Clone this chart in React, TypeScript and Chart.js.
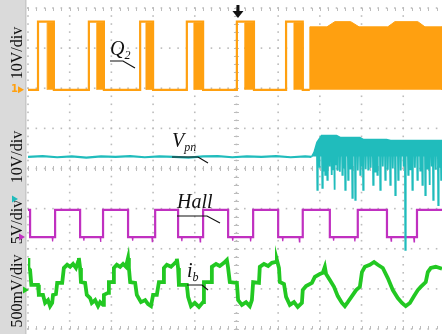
import React, { useEffect, useRef } from "react";
import { Chart, registerables } from "chart.js";

Chart.register(...registerables);

// Time axis in screen divisions (visible part 0 .. 9.93 of the 10-div screen)
// Amplitude axis in screen divisions (0 = bottom edge, 8 = top edge)
const T_MAX = 9.93;
const Y_DIVS = 8;

const channelScaleLabels = ["10V/div", "10V/div", "5V/div", "500mV/div"];

// ---- CH1: Q2 gate signal ----
const q2Low = 5.96;
const q2High = 7.66;
const q2ChopHigh = 7.63;
const q2Rise = [0.24, 1.46, 2.69, 3.81, 5.01, 6.19];
const q2ChopStart = [0.46, 1.65, 2.83, 3.98, 5.2, 6.38];
const q2Fall = [0.62, 1.82, 3.0, 4.2, 5.42, 6.59];
const q2DenseT = [6.76, 7.17, 7.36, 7.74, 7.94, 8.63, 8.8, 9.35, 9.52, 9.93];
const q2DenseTop = [7.53, 7.53, 7.66, 7.66, 7.53, 7.53, 7.66, 7.66, 7.53, 7.53];

// ---- CH2: Vpn ----
const vpnFlatT = [0.0, 0.35, 0.7, 1.05, 1.4, 1.75, 2.1, 2.45, 2.8, 3.15, 3.5, 3.85, 4.2, 4.55, 4.9, 5.25, 5.6, 5.95, 6.3, 6.65, 6.8];
const vpnFlatV = [4.29, 4.31, 4.28, 4.3, 4.27, 4.3, 4.29, 4.31, 4.28, 4.3, 4.29, 4.27, 4.3, 4.31, 4.28, 4.3, 4.29, 4.31, 4.28, 4.3, 4.29];
const vpnTopT = [6.8, 6.86, 6.93, 7.04, 7.4, 7.5, 7.96, 8.05, 8.6, 8.7, 9.93];
const vpnTopV = [4.29, 4.4, 4.65, 4.82, 4.82, 4.77, 4.77, 4.72, 4.72, 4.7, 4.7];
const vpnBandLow = 4.3;
const vpnSpikeTop = 4.6;
const vpnSpikeT = [6.93, 6.98, 7.05, 7.09, 7.12, 7.17, 7.22, 7.27, 7.31, 7.34, 7.37, 7.41, 7.47, 7.53, 7.57, 7.6, 7.67, 7.72, 7.77, 7.84, 7.9, 7.96, 8.0, 8.03, 8.09, 8.15, 8.21, 8.27, 8.32, 8.37, 8.44, 8.5, 8.56, 8.62, 8.68, 8.74, 8.8, 8.87, 8.93, 9.0, 9.04, 9.11, 9.16, 9.21, 9.27, 9.33, 9.4, 9.45, 9.52, 9.57, 9.62, 9.67, 9.71, 9.77, 9.83, 9.87, 9.9];
const vpnSpikeLow = [3.47, 4.02, 3.52, 3.95, 3.84, 3.72, 4.05, 3.84, 3.98, 3.47, 4.08, 3.97, 3.92, 3.84, 4.02, 3.47, 3.72, 4.0, 3.27, 3.22, 3.95, 3.84, 4.05, 3.47, 3.98, 3.97, 4.02, 3.59, 3.92, 3.84, 3.47, 4.05, 3.72, 3.97, 3.59, 4.0, 3.34, 3.72, 3.95, 4.05, 1.97, 3.84, 3.98, 3.47, 4.02, 3.72, 3.95, 3.59, 3.34, 4.0, 3.59, 4.05, 3.22, 3.97, 3.09, 4.02, 3.72];

// ---- CH3: Hall ----
const hallHigh = 2.97;
const hallLow = 2.29;
const hallEdges = [0.05, 0.65, 1.25, 1.8, 2.4, 3.05, 3.6, 4.2, 4.8, 5.4, 6.0, 6.59, 7.24, 7.91, 8.61, 9.33];
const hallGlitchT = [0.58, 1.33, 1.73, 2.5, 2.97, 3.68, 4.12, 4.9, 5.33, 6.1, 6.5, 7.32, 7.83, 8.7, 9.25];
const hallGlitchV = [2.18, 2.2, 2.17, 2.2, 2.18, 2.19, 2.17, 2.2, 2.18, 2.19, 2.17, 2.2, 2.18, 2.19, 2.17];

// ---- CH4: i_b ----
const ibT = [0.0, 0.01, 0.05, 0.08, 0.24, 0.26, 0.36, 0.41, 0.48, 0.53, 0.58, 0.6, 0.67, 0.7, 0.82, 0.86, 0.94, 1.01, 1.08, 1.15, 1.2, 1.22, 1.25, 1.27, 1.37, 1.41, 1.49, 1.53, 1.61, 1.68, 1.73, 1.8, 1.82, 1.92, 1.94, 2.04, 2.06, 2.13, 2.21, 2.28, 2.35, 2.4, 2.42, 2.45, 2.57, 2.61, 2.71, 2.81, 2.88, 2.95, 3.0, 3.09, 3.14, 3.24, 3.26, 3.33, 3.43, 3.5, 3.55, 3.57, 3.6, 3.62, 3.81, 3.84, 3.91, 4.0, 4.1, 4.2, 4.22, 4.39, 4.41, 4.51, 4.6, 4.7, 4.77, 4.8, 4.84, 5.01, 5.04, 5.13, 5.23, 5.32, 5.37, 5.4, 5.54, 5.56, 5.66, 5.76, 5.85, 5.95, 5.97, 6.02, 6.04, 6.14, 6.19, 6.28, 6.38, 6.47, 6.57, 6.59, 6.67, 6.81, 6.88, 7.0, 7.07, 7.12, 7.15, 7.24, 7.34, 7.43, 7.53, 7.6, 7.67, 7.77, 7.87, 7.96, 8.01, 8.08, 8.2, 8.3, 8.39, 8.51, 8.63, 8.75, 8.87, 8.97, 9.06, 9.16, 9.26, 9.35, 9.42, 9.54, 9.59, 9.66, 9.78, 9.93];
const ibV = [1.77, 1.52, 1.47, 1.1, 1.1, 0.85, 0.85, 0.65, 0.72, 0.57, 0.65, 0.85, 0.87, 1.15, 1.15, 1.52, 1.6, 1.55, 1.62, 1.52, 1.67, 1.77, 1.52, 1.17, 1.15, 0.85, 0.77, 0.65, 0.72, 0.57, 0.67, 0.6, 0.85, 0.9, 1.17, 1.17, 1.52, 1.6, 1.55, 1.62, 1.55, 1.77, 1.52, 1.17, 1.15, 0.85, 0.67, 0.72, 0.62, 0.57, 0.85, 0.85, 1.17, 1.17, 1.52, 1.6, 1.55, 1.62, 1.67, 1.75, 1.52, 1.1, 1.1, 0.8, 0.57, 0.65, 0.55, 0.67, 1.17, 1.17, 1.55, 1.62, 1.57, 1.65, 1.72, 1.52, 1.17, 1.15, 0.72, 0.6, 0.67, 0.57, 0.72, 1.17, 1.15, 1.55, 1.62, 1.57, 1.65, 1.67, 1.72, 1.52, 1.17, 1.12, 0.8, 0.6, 0.67, 0.55, 0.65, 0.97, 1.07, 1.15, 1.3, 1.37, 1.4, 1.55, 1.37, 1.22, 1.05, 0.82, 0.65, 0.57, 0.67, 0.82, 0.97, 1.05, 1.42, 1.55, 1.6, 1.67, 1.6, 1.52, 1.27, 0.97, 0.77, 0.65, 0.57, 0.65, 0.82, 0.97, 1.05, 1.17, 1.42, 1.52, 1.55, 1.5];

const ORANGE = "#ffa010";
const CYAN = "#20bcbc";
const MAGENTA = "#c030c0";
const GREEN = "#22c822";

type P = { x: number; y: number | null };

function q2OutlinePoints(): P[] {
  const pts: P[] = [{ x: 0, y: q2Low }];
  q2Rise.forEach((r, i) => {
    pts.push({ x: r, y: q2Low }, { x: r, y: q2High }, { x: q2Fall[i], y: q2High }, { x: q2Fall[i], y: q2Low });
  });
  pts.push({ x: q2DenseT[0], y: q2Low });
  return pts;
}

function q2ChopPoints(): P[] {
  const pts: P[] = [];
  q2ChopStart.forEach((s, i) => {
    const e = q2Fall[i];
    pts.push({ x: s, y: q2Low }, { x: s, y: q2ChopHigh }, { x: e, y: q2ChopHigh }, { x: e, y: q2Low }, { x: e, y: null });
  });
  pts.push({ x: q2DenseT[0], y: q2Low });
  q2DenseT.forEach((t, i) => pts.push({ x: t, y: q2DenseTop[i] }));
  pts.push({ x: T_MAX, y: q2Low });
  return pts;
}

function seriesPoints(ts: number[], vs: number[]): P[] {
  return ts.map((t, i) => ({ x: t, y: vs[i] }));
}

function spikePoints(ts: number[], lows: number[], base: number, w = 0.008): P[] {
  const pts: P[] = [];
  ts.forEach((t, i) => {
    pts.push({ x: t, y: base }, { x: t + w / 2, y: lows[i] }, { x: t + w, y: base }, { x: t + w, y: null });
  });
  return pts;
}

function hallPoints(): P[] {
  let level = hallHigh;
  const pts: P[] = [{ x: 0, y: level }];
  hallEdges.forEach((e) => {
    const next = level === hallHigh ? hallLow : hallHigh;
    pts.push({ x: e, y: level }, { x: e, y: next });
    level = next;
  });
  pts.push({ x: T_MAX, y: level });
  return pts;
}

const SERIF = '"Liberation Serif", "Times New Roman", "DejaVu Serif", serif';

const scopePlugin = {
  id: "scopeScreen",
  beforeDraw(chart: any) {
    const { ctx, chartArea: a, scales, width, height } = chart;
    const xs = scales.x;
    const ys = scales.y;
    ctx.save();
    ctx.fillStyle = "#ffffff";
    ctx.fillRect(0, 0, width, height);
    ctx.fillStyle = "#dadada";
    ctx.fillRect(0, 0, a.left - 3, height);
    ctx.fillStyle = "#c8c8c8";
    ctx.fillRect(a.left - 3, 0, 1.5, height);

    ctx.fillStyle = "#bcbcbc";
    const dot = (x: number, y: number) => ctx.fillRect(x - 0.8, y - 0.8, 1.6, 1.6);
    for (let i = 0; i <= 10; i++) {
      const px = xs.getPixelForValue(i);
      if (px > width + 1) continue;
      for (let k = 0; k <= Y_DIVS * 5; k++) dot(px, ys.getPixelForValue(k / 5));
    }
    for (let j = 0; j <= Y_DIVS; j++) {
      const py = ys.getPixelForValue(j);
      for (let k = 0; k <= 50; k++) {
        const px = xs.getPixelForValue(k / 5);
        if (px > width + 1) break;
        dot(px, py);
      }
    }
    ctx.strokeStyle = "#bcbcbc";
    ctx.lineWidth = 1;
    const cx = xs.getPixelForValue(5);
    const cy = ys.getPixelForValue(Y_DIVS / 2);
    ctx.beginPath();
    for (let k = 0; k <= 50; k++) {
      const px = Math.round(xs.getPixelForValue(k / 5)) + 0.5;
      if (px > width + 1) break;
      ctx.moveTo(px, cy - 2.5);
      ctx.lineTo(px, cy + 2.5);
      ctx.moveTo(px, a.top);
      ctx.lineTo(px, a.top + 3);
      ctx.moveTo(px, a.bottom);
      ctx.lineTo(px, a.bottom - 3);
    }
    for (let k = 0; k <= Y_DIVS * 5; k++) {
      const py = Math.round(ys.getPixelForValue(k / 5)) + 0.5;
      ctx.moveTo(cx - 2.5, py);
      ctx.lineTo(cx + 2.5, py);
    }
    ctx.stroke();
    ctx.restore();
  },
  afterDatasetsDraw(chart: any) {
    const { ctx, scales } = chart;
    const xs = scales.x;
    const ys = scales.y;
    ctx.save();

    // vertical channel scale labels in left band
    ctx.fillStyle = "#111111";
    ctx.font = `16px ${SERIF}`;
    ctx.textAlign = "center";
    ctx.textBaseline = "alphabetic";
    const labelY = [53, 157, 222, 291];
    channelScaleLabels.forEach((s, i) => {
      ctx.save();
      ctx.translate(22, labelY[i]);
      ctx.rotate(-Math.PI / 2);
      ctx.fillText(s, 0, 0);
      ctx.restore();
    });

    // channel ground markers
    const tri = (x: number, y: number, color: string) => {
      ctx.fillStyle = color;
      ctx.beginPath();
      ctx.moveTo(x, y - 3.5);
      ctx.lineTo(x + 6, y);
      ctx.lineTo(x, y + 3.5);
      ctx.closePath();
      ctx.fill();
    };
    const y1 = ys.getPixelForValue(q2Low);
    ctx.fillStyle = ORANGE;
    ctx.font = "bold 10px 'DejaVu Sans', sans-serif";
    ctx.textAlign = "left";
    ctx.textBaseline = "middle";
    ctx.fillText("1", 11, y1);
    tri(18, y1, ORANGE);
    tri(12, 199, CYAN);
    tri(19, ys.getPixelForValue(hallLow), MAGENTA);
    tri(23, 290, GREEN);

    // annotations
    ctx.fillStyle = "#111111";
    ctx.strokeStyle = "#111111";
    ctx.lineWidth = 1.2;
    ctx.textAlign = "left";
    ctx.textBaseline = "alphabetic";
    const label = (main: string, sub: string, x: number, y: number) => {
      ctx.font = `italic 20px ${SERIF}`;
      ctx.fillText(main, x, y);
      const w = ctx.measureText(main).width;
      if (sub) {
        ctx.font = `italic 12px ${SERIF}`;
        ctx.fillText(sub, x + w, y + 4);
      }
    };
    const leader = (x0: number, x1: number, y: number, x2: number, y2: number) => {
      ctx.beginPath();
      ctx.moveTo(x0, y);
      ctx.lineTo(x1, y);
      ctx.lineTo(x2, y2);
      ctx.stroke();
    };
    label("Q", "2", 110, 55);
    leader(110, 123, 61, 135, 68);
    label("V", "pn", 172, 147);
    leader(172, 198, 157, 208, 163);
    label("Hall", "", 177, 208);
    leader(177, 207, 216, 220, 223);
    label("i", "b", 187, 277);
    leader(187, 202, 285, 208, 290);

    // trigger position arrow
    const tx = xs.getPixelForValue(5) + 1.5;
    ctx.fillStyle = "#111111";
    ctx.fillRect(tx - 1.5, 5, 3, 7);
    ctx.beginPath();
    ctx.moveTo(tx - 5.5, 11);
    ctx.lineTo(tx + 5.5, 11);
    ctx.lineTo(tx, 18);
    ctx.closePath();
    ctx.fill();

    ctx.restore();
  },
};

export default function App() {
  const canvasRef = useRef<HTMLCanvasElement | null>(null);

  useEffect(() => {
    const canvas = canvasRef.current;
    if (!canvas) return;
    const line = (data: P[], color: string, width: number, extra: any = {}) => ({
      data,
      borderColor: color,
      backgroundColor: color,
      borderWidth: width,
      pointRadius: 0,
      tension: 0,
      fill: false,
      spanGaps: false,
      ...extra,
    });
    const chart = new Chart(canvas, {
      type: "line",
      data: {
        datasets: [
          line(q2OutlinePoints(), ORANGE, 2.2),
          line(q2ChopPoints(), ORANGE, 1, { fill: { value: q2Low } }),
          line(seriesPoints(vpnFlatT, vpnFlatV), CYAN, 2.2),
          line(seriesPoints(vpnTopT, vpnTopV), CYAN, 1.5, { fill: { value: vpnBandLow } }),
          line(spikePoints(vpnSpikeT, vpnSpikeLow, vpnSpikeTop, 0.02), CYAN, 1.8),
          line(hallPoints(), MAGENTA, 2.2),
          line(spikePoints(hallGlitchT, hallGlitchV, hallLow, 0.02), MAGENTA, 1.2),
          line(seriesPoints(ibT, ibV), GREEN, 3.8),
        ] as any,
      },
      options: {
        animation: false,
        responsive: false,
        devicePixelRatio: 1,
        events: [],
        layout: { padding: { left: 28, top: 8, right: 0, bottom: 5 } },
        scales: {
          x: { type: "linear", min: 0, max: T_MAX, display: false },
          y: { type: "linear", min: 0, max: Y_DIVS, display: false },
        },
        plugins: { legend: { display: false }, tooltip: { enabled: false } },
      },
      plugins: [scopePlugin],
    });
    return () => chart.destroy();
  }, []);

  return (
    <div style={{ position: "absolute", left: 0, top: 0, width: 442, height: 334 }}>
      <canvas ref={canvasRef} width={442} height={334} style={{ display: "block" }} />
    </div>
  );
}
